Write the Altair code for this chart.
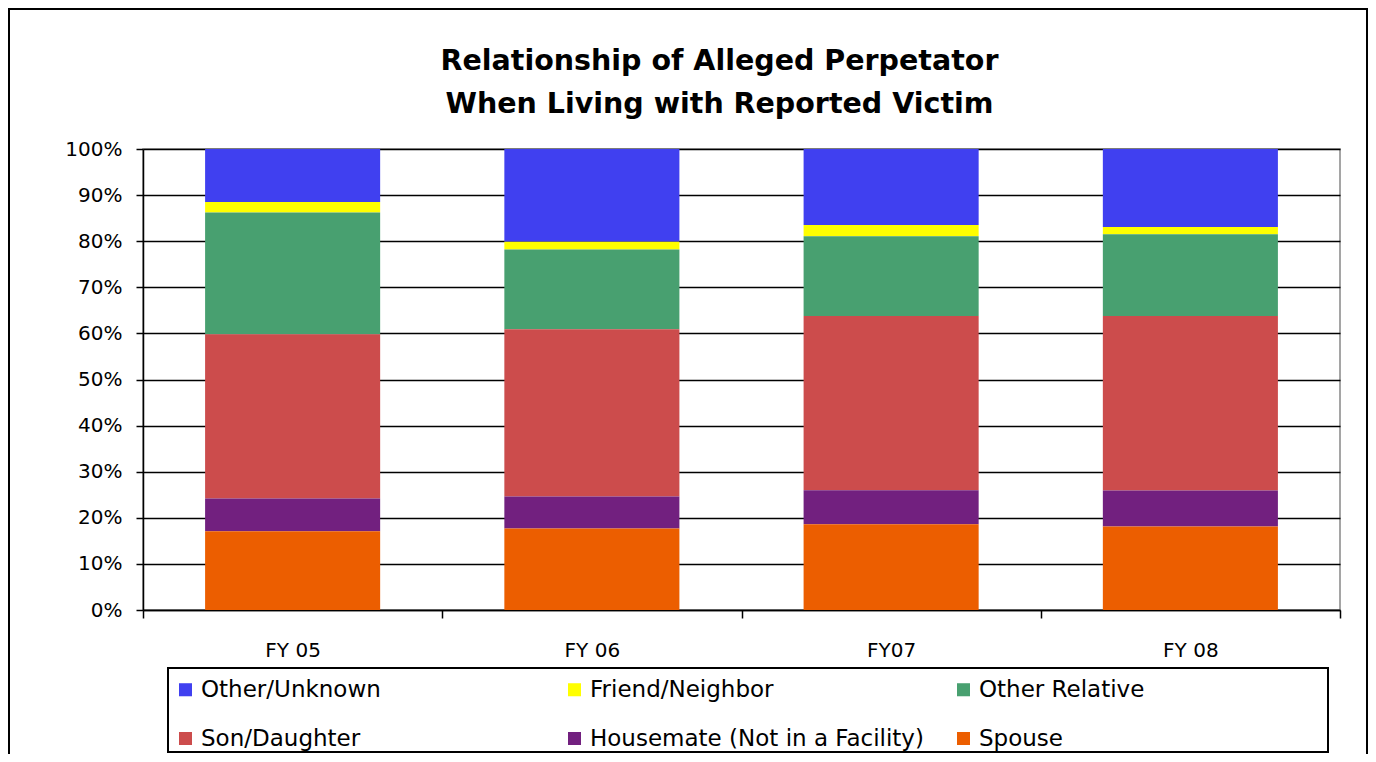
import altair as alt
import pandas as pd

years = ["FY 05", "FY 06", "FY07", "FY 08"]
series = ["Other/Unknown", "Friend/Neighbor", "Other Relative",
          "Son/Daughter", "Housemate (Not in a Facility)", "Spouse"]
colors = ["#4040f0", "#ffff00", "#48a070", "#cc4c4c", "#72207f", "#ec5e00"]

spouse = [17.1, 17.7, 18.6, 18.1]
housemate = [7.1, 6.9, 7.4, 7.8]
son_daughter = [35.6, 36.3, 37.8, 37.9]
other_relative = [26.4, 17.3, 17.3, 17.7]
friend = [2.3, 1.7, 2.4, 1.6]
other_unknown = [11.5, 20.1, 16.5, 16.9]

values = {
    "Other/Unknown": other_unknown,
    "Friend/Neighbor": friend,
    "Other Relative": other_relative,
    "Son/Daughter": son_daughter,
    "Housemate (Not in a Facility)": housemate,
    "Spouse": spouse,
}

rows = []
for s_i, s in enumerate(series):
    for y_i, y in enumerate(years):
        rows.append({"year": y, "series": s, "value": values[s][y_i] / 100.0,
                     "order": len(series) - 1 - s_i})
df = pd.DataFrame(rows)

FONT = "DejaVu Sans"

bars = alt.Chart(df).mark_bar(width={"band": 0.585}).encode(
    x=alt.X("year:N", sort=years,
            scale=alt.Scale(paddingInner=0, paddingOuter=0),
            axis=alt.Axis(title=None, labelAngle=0, tickBand="extent",
                          labelFontSize=20, labelPadding=22, tickSize=8,
                          tickColor="black", domainColor="black",
                          labelColor="black", labelFont=FONT, grid=False,
                          domainWidth=1.5, tickWidth=1.5)),
    y=alt.Y("value:Q", stack="normalize",
            scale=alt.Scale(domain=[0, 1]),
            axis=alt.Axis(title=None, format=".0%",
                          values=[i / 10 for i in range(11)],
                          labelFontSize=20, labelPadding=14, tickSize=7,
                          tickColor="black", domainColor="black",
                          labelColor="black", labelFont=FONT,
                          gridColor="black", gridWidth=1.5, domainWidth=1.5,
                          tickWidth=1.5)),
    color=alt.Color("series:N",
                    scale=alt.Scale(domain=series, range=colors),
                    legend=alt.Legend(title=None, orient="none",
                                      legendX=25, legendY=523,
                                      direction="horizontal",
                                      columns=3, gridAlign="all",
                                      columnPadding=28, rowPadding=25,
                                      symbolType="square", symbolSize=170,
                                      symbolStrokeWidth=0,
                                      labelFontSize=23, labelFont=FONT,
                                      labelColor="black", labelLimit=500,
                                      padding=6)),
    order=alt.Order("order:Q", sort="ascending"),
)

one = pd.DataFrame({"k": [0]})

frame = alt.Chart(one).mark_rect(
    fill="white", fillOpacity=0, stroke="black", strokeWidth=2, clip=False
).encode(
    x=alt.value(-134), x2=alt.value(1224),
    y=alt.value(-140), y2=alt.value(700),
)

legend_box = alt.Chart(one).mark_rect(
    fill="white", fillOpacity=0, stroke="black", strokeWidth=2, clip=False
).encode(
    x=alt.value(25), x2=alt.value(1185),
    y=alt.value(519), y2=alt.value(603),
)

chart = alt.layer(frame, legend_box, bars).properties(
    width=1197, height=461,
    title=alt.TitleParams(
        ["Relationship of Alleged Perpetator", "When Living with Reported Victim"],
        fontSize=28.5, font=FONT, fontWeight="bold", color="black",
        anchor="middle", dx=-22, offset=-110, lineHeight=43),
    padding={"left": 135, "top": 141, "right": 28, "bottom": 144},
    autosize=alt.AutoSizeParams(type="none"),
).configure_view(
    stroke="#888888", strokeWidth=1.5
)

chart.save("out.html", embed_options={"renderer": "svg", "actions": False})
